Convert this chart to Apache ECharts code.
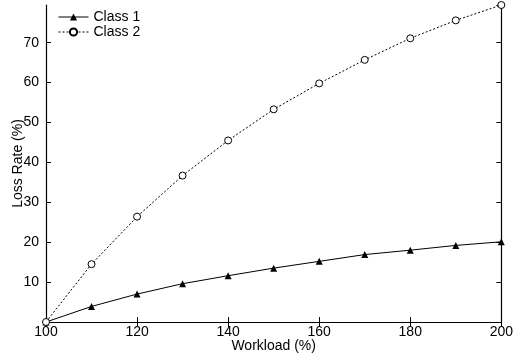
<!DOCTYPE html>
<html>
<head>
<meta charset="utf-8">
<script src="https://cdn.jsdelivr.net/npm/echarts@6/dist/echarts.min.js"></script>
<style>
  html, body { margin: 0; padding: 0; background: #fff; }
  #chart { width: 516px; height: 358px; }
</style>
</head>
<body>
<div id="chart"></div>
<script>
// Workload levels (%) on the x axis
const workload = [100, 110, 120, 130, 140, 150, 160, 170, 180, 190, 200];
// Loss rate (%) per class
const class1 = [0, 3.9, 7.0, 9.6, 11.6, 13.5, 15.2, 16.9, 18.0, 19.2, 20.1];
const class2 = [0, 14.5, 26.4, 36.7, 45.5, 53.3, 59.8, 65.7, 71.1, 75.6, 79.45];
const xTicks = [100, 120, 140, 160, 180, 200];
const yTicks = [10, 20, 30, 40, 50, 60, 70];

const FONT = 'Liberation Sans, Arial, sans-serif';
const INK = '#000';

const pairs = (ys) => workload.map((x, i) => [x, ys[i]]);

const axisCommon = {
  axisLine: { show: true, lineStyle: { color: INK, width: 1.2 } },
  axisTick: { show: true, inside: true, length: 5, lineStyle: { color: INK } },
  splitLine: { show: false }
};

const chart = echarts.init(document.getElementById('chart'), null, { renderer: 'canvas' });
chart.setOption({
  animation: false,
  backgroundColor: '#fff',
  textStyle: { fontFamily: FONT, color: INK },
  grid: { left: 46, right: 13, top: 5, bottom: 35.3, containLabel: false },
  legend: {
    orient: 'vertical',
    left: 58,
    top: 10,
    padding: 0,
    itemWidth: 30,
    itemHeight: 9,
    itemGap: 1,
    lineStyle: { width: 1 },
    textStyle: { fontFamily: FONT, fontSize: 14, color: INK, padding: [0, 0, 0, 0] },
    data: ['Class 1', 'Class 2']
  },
  xAxis: [
    Object.assign({
      type: 'value', min: 100, max: 200, interval: 20, position: 'bottom',
      name: 'Workload (%)', nameLocation: 'middle', nameGap: 17,
      nameMoveOverlap: false,
      nameTextStyle: { fontFamily: FONT, fontSize: 14, color: INK },
      axisLabel: {
        fontFamily: FONT, fontSize: 14, color: INK, margin: 3,
        formatter: v => xTicks.includes(v) ? String(v) : ''
      }
    }, axisCommon),
    Object.assign({
      type: 'value', min: 100, max: 200, interval: 20, position: 'top',
      axisLabel: { show: false }
    }, axisCommon)
  ],
  yAxis: [
    Object.assign({
      type: 'value', min: 0, max: 79.45, interval: 10, position: 'left',
      name: 'Loss Rate (%)', nameLocation: 'middle', nameGap: 21,
      nameMoveOverlap: false,
      nameTextStyle: { fontFamily: FONT, fontSize: 14, color: INK },
      axisLabel: {
        fontFamily: FONT, fontSize: 14, color: INK, margin: 7,
        showMinLabel: false, showMaxLabel: false,
        formatter: v => yTicks.includes(v) ? String(v) : ''
      }
    }, axisCommon),
    Object.assign({
      type: 'value', min: 0, max: 79.45, interval: 10, position: 'right',
      axisLabel: { show: false }
    }, axisCommon)
  ],
  series: [
    {
      name: 'Class 1', type: 'line', data: pairs(class1),
      symbol: 'triangle', symbolSize: 7,
      itemStyle: { color: INK },
      lineStyle: { color: INK, width: 1 }
    },
    {
      name: 'Class 2', type: 'line', data: pairs(class2),
      symbol: 'circle', symbolSize: 7,
      itemStyle: { color: '#fff', borderColor: INK, borderWidth: 1 },
      lineStyle: { color: INK, width: 1, type: [2, 2] }
    }
  ]
});
</script>
</body>
</html>
